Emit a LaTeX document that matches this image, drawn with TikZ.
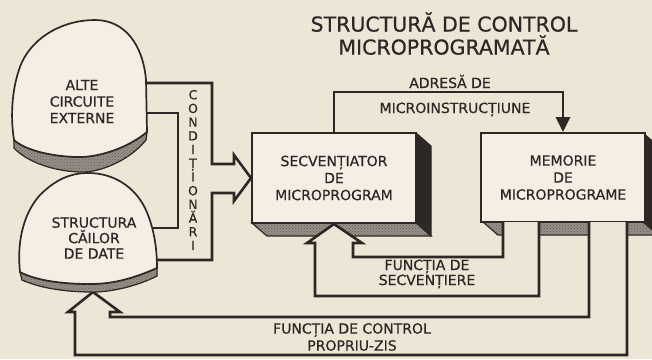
\documentclass[tikz,border=0pt]{standalone}
\usepackage{fontspec}
\setmainfont{DejaVu Sans}[FakeBold=0.6]
\usetikzlibrary{arrows.meta,patterns}
\definecolor{paper}{RGB}{237,229,214}
\definecolor{face}{RGB}{244,238,228}
\definecolor{ink}{RGB}{45,40,37}
\definecolor{hatchc}{RGB}{150,143,134}
\begin{document}
\begin{tikzpicture}[x=1pt,y=-1pt,
  box/.style={draw=ink, line width=2pt, fill=face, minimum width=164pt, minimum height=90pt,
    inner sep=0pt, align=center, font=\fontsize{14}{17}\selectfont, text=ink},
  darkside/.style={fill=ink, draw=ink, line width=1.2pt, line join=round},
  hatch/.style={fill=hatchc, draw=ink, line width=1.3pt, postaction={pattern=crosshatch dots, pattern color=ink!75}},
  band/.style={draw=ink, line width=2.6pt},
  blobface/.style={fill=face, draw=ink, line width=1.7pt},
  lbl/.style={text=ink, font=\fontsize{14}{16.5}\selectfont, align=center, inner sep=0pt},
  addr/.style={draw=ink, line width=2.8pt, -{Triangle[length=15pt,width=14pt]}}]
\useasboundingbox (0,0) rectangle (652,359);
\fill[paper] (0,0) rectangle (652,359);

% 3D sides of the boxes
\path[darkside] (416,133) -- (431,146) -- (431,236) -- (416,223) -- cycle;
\path[hatch] (252,223) -- (416,223) -- (431,236) -- (267,236) -- cycle;
\path[darkside] (643,133) -- (658,146) -- (658,235) -- (643,222) -- cycle;
\path[hatch] (483,222) -- (643,222) -- (658,235) -- (498,235) -- cycle;

\node[box] (sec) at (334,178) {SECVENȚIATOR\\DE\\MICROPROGRAM};
\node[box, minimum height=89pt] (mem) at (563,177.5) {MEMORIE\\DE\\MICROPROGRAME};

% address line
\draw[addr] (sec.north) -- ++(0,-40) -| (mem.north);

% sequencing band
\fill[paper] (503,222) -- (503,257) -- (353,257) -- (353,243) -- (362,243) -- (sec.south)
  -- (307,243) -- (315,243) -- (315,296) -- (539,296) -- (539,222) -- cycle;
\draw[band] (503,222) -- (503,257) -- (353,257) -- (353,243) -- (362,243) -- (sec.south)
  -- (307,243) -- (315,243) -- (315,296) -- (539,296) -- (539,222);

% control band
\fill[paper] (589,222) -- (589,317) -- (110,317) -- (110,312) -- (120,312) -- (93,292)
  -- (68,312) -- (75,312) -- (75,355) -- (627,355) -- (627,222) -- cycle;
\draw[band] (589,222) -- (589,317) -- (110,317) -- (110,312) -- (120,312) -- (93,292)
  -- (68,312) -- (75,312) -- (75,355) -- (627,355) -- (627,222);

% conditions band
\fill[paper] (130,83) -- (212,83) -- (212,164) -- (234,164) -- (234,155) -- (sec.west)
  -- (234,201) -- (234,193) -- (212,193) -- (212,260) -- (130,260) -- (130,228)
  -- (178,228) -- (178,113) -- (130,113) -- cycle;
\draw[band] (130,83) -- (212,83) -- (212,164) -- (234,164) -- (234,155) -- (sec.west)
  -- (234,201) -- (234,193) -- (212,193) -- (212,260) -- (130,260);
\draw[band] (130,113) -- (178,113) -- (178,228) -- (130,228);

% Structura blob
\path[hatch] (20,272) .. controls (35,280) and (60,284) .. (90,284)
  .. controls (110,284) and (130,280) .. (157,268) -- (157,276)
  .. controls (135,287) and (110,292) .. (93,292)
  .. controls (65,292) and (40,288) .. (22,280) -- cycle;
\path[blobface] (20,272) .. controls (17,245) and (22,215) .. (40,195)
  .. controls (55,180) and (70,173) .. (88,173)
  .. controls (115,173) and (135,188) .. (145,208)
  .. controls (153,225) and (157,245) .. (157,268)
  .. controls (130,280) and (110,284) .. (90,284)
  .. controls (60,284) and (35,280) .. (20,272) -- cycle;

% Alte circuite blob
\path[hatch] (14,140) .. controls (25,150) and (50,156) .. (75,157)
  .. controls (95,158) and (125,150) .. (147,132) -- (146,140)
  .. controls (130,160) and (100,173) .. (80,172)
  .. controls (50,171) and (25,160) .. (14,148) -- cycle;
\path[blobface] (14,140) .. controls (10,115) and (12,85) .. (22,62)
  .. controls (35,35) and (65,20) .. (95,20)
  .. controls (125,20) and (143,45) .. (146,80) -- (147,132)
  .. controls (125,150) and (95,158) .. (75,157)
  .. controls (50,156) and (25,150) .. (14,140) -- cycle;

% texts
\node[lbl] (alte) at (82,101.5) {ALTE\\CIRCUITE\\EXTERNE};
\node[lbl, font=\fontsize{14}{15.5}\selectfont] (cai) at (94,238) {STRUCTURA\\CĂILOR\\DE DATE};
\node[lbl, font=\fontsize{12.5}{13.7}\selectfont] (cond) at (193,170) {C\\O\\N\\D\\I\\Ț\\I\\O\\N\\Ă\\R\\I};
\node[lbl, font=\fontsize{20.5}{23}\selectfont] (title) at (444,33.5) {STRUCTURĂ DE CONTROL\\MICROPROGRAMATĂ};
\node[lbl, anchor=base] (adr1) at (450,88) {ADRESĂ DE};
\node[lbl, anchor=base] (adr2) at (455,113) {MICROINSTRUCȚIUNE};
\node[lbl, font=\fontsize{14}{15}\selectfont] (seqlbl) at (427,274) {FUNCȚIA DE\\SECVENȚIERE};
\node[lbl, font=\fontsize{14}{17}\selectfont] (ctllbl) at (352,337) {FUNCȚIA DE CONTROL\\PROPRIU-ZIS};
\end{tikzpicture}
\end{document}
